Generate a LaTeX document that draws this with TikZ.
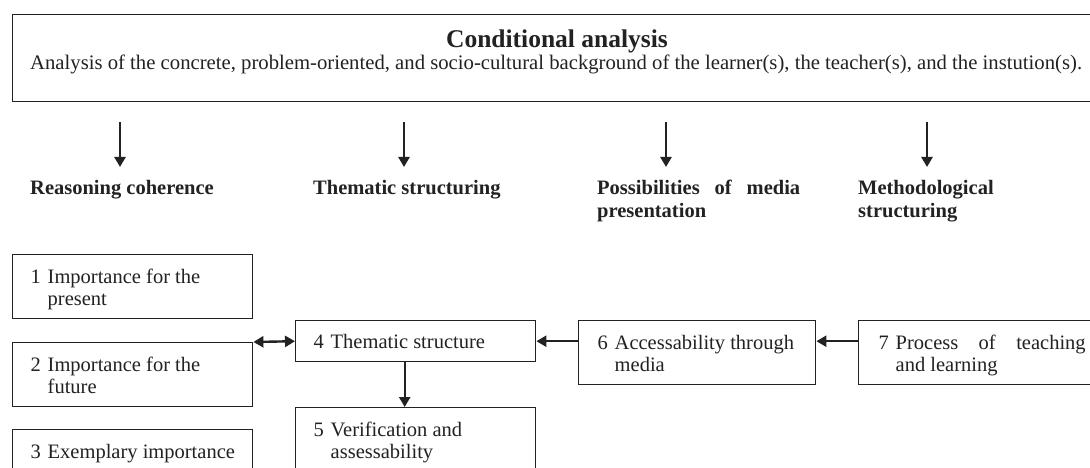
\documentclass[tikz,border=0pt]{standalone}
\usepackage{fontspec}
\setmainfont{Liberation Serif}
\usetikzlibrary{arrows.meta}
\definecolor{ink}{HTML}{222222}
\tikzset{
  box/.style={draw=ink, line width=1.4pt, anchor=north west, inner xsep=0pt, inner ysep=0pt, text=ink, font=\fontsize{20.5}{22}\selectfont},
  hdr/.style={anchor=base west, inner sep=0pt, text=ink, font=\fontsize{20.5}{23}\selectfont\bfseries, align=left},
  arr/.style={draw=ink, line width=2.4pt, -{Triangle[width=11pt,length=10pt]}},
  darr/.style={draw=ink, line width=2.4pt, {Triangle[width=11pt,length=10pt]}-{Triangle[width=11pt,length=10pt]}},
}
% #1 number, #2 lines, #3 width, #4 height
\newcommand{\itm}[4]{\begin{minipage}[c][#4pt][c]{#3pt}\vspace*{6pt}\makebox[17pt][l]{#1}\begin{tabular}[t]{@{}l@{}}#2\end{tabular}\end{minipage}}
\begin{document}
\begin{tikzpicture}[x=1pt,y=-1pt]
\useasboundingbox (0,0) rectangle (1090,468);
\clip (0,0) rectangle (1090,468);
\fill[white] (0,0) rectangle (1090,468);
% top box
\node[box, minimum width=1100pt, minimum height=87pt] (top) at (12,14) {};
\node[anchor=base, inner sep=0pt, text=ink, font=\fontsize{25.5}{28}\selectfont\bfseries] (title) at (557,48) {Conditional analysis};
\node[anchor=base west, inner sep=0pt, text=ink, font=\fontsize{20.7}{22}\selectfont] (sub) at (30,70) {Analysis of the concrete, problem-oriented, and socio-cultural background of the learner(s), the teacher(s), and the instution(s).};
% arrows to headers
\coordinate (s1) at (120,122); \coordinate (e1) at (120,167);
\coordinate (s2) at (404,122); \coordinate (e2) at (404,167);
\coordinate (s3) at (666,122); \coordinate (e3) at (666,167);
\coordinate (s4) at (927,122); \coordinate (e4) at (927,167);
\draw[arr] (s1) -- (e1);
\draw[arr] (s2) -- (e2);
\draw[arr] (s3) -- (e3);
\draw[arr] (s4) -- (e4);
% headers
\node[hdr] (h1) at (30,194) {Reasoning coherence};
\node[hdr] (h2) at (313,194) {Thematic structuring};
\node[hdr] (h3) at (597,217) {\makebox[203pt][s]{Possibilities of media}\\presentation};
\node[hdr] (h4) at (858,217) {Methodological\\structuring};
% boxes
\node[box] (b1) at (12,254) {\hspace{18pt}\itm{1}{Importance for the\\present}{218}{64}\hspace{4pt}\mbox{}};
\node[box] (b2) at (12,342) {\hspace{18pt}\itm{2}{Importance for the\\future}{218}{64}\hspace{4pt}\mbox{}};
\node[box] (b3) at (12,429) {\hspace{18pt}\itm{3}{Exemplary importance}{218}{42}\hspace{4pt}\mbox{}};
\node[box] (b4) at (295,320) {\hspace{18pt}\itm{4}{Thematic structure}{218}{41}\hspace{4pt}\mbox{}};
\node[box] (b5) at (295,407) {\hspace{18pt}\itm{5}{Verification and\\assessability}{218}{64}\hspace{4pt}\mbox{}};
\node[box] (b6) at (578,320) {\hspace{19pt}\itm{6}{Accessability through\\media}{214}{64}\hspace{4pt}\mbox{}};
\node[box] (b7) at (858,320) {\hspace{20pt}\itm{7}{\makebox[190pt][s]{Process of teaching}\\and learning}{215}{64}\hspace{40pt}\mbox{}};
% connectors
\draw[darr] (b2.north east) -- (b4.west);
\draw[arr] ([xshift=-11pt]b4.south) -- ([xshift=-11pt]b5.north);
\draw[arr] (b6.west |- b4.west) -- (b4.east);
\draw[arr] (b7.west |- b4.west) -- (b6.east |- b4.west);
\end{tikzpicture}
\end{document}
